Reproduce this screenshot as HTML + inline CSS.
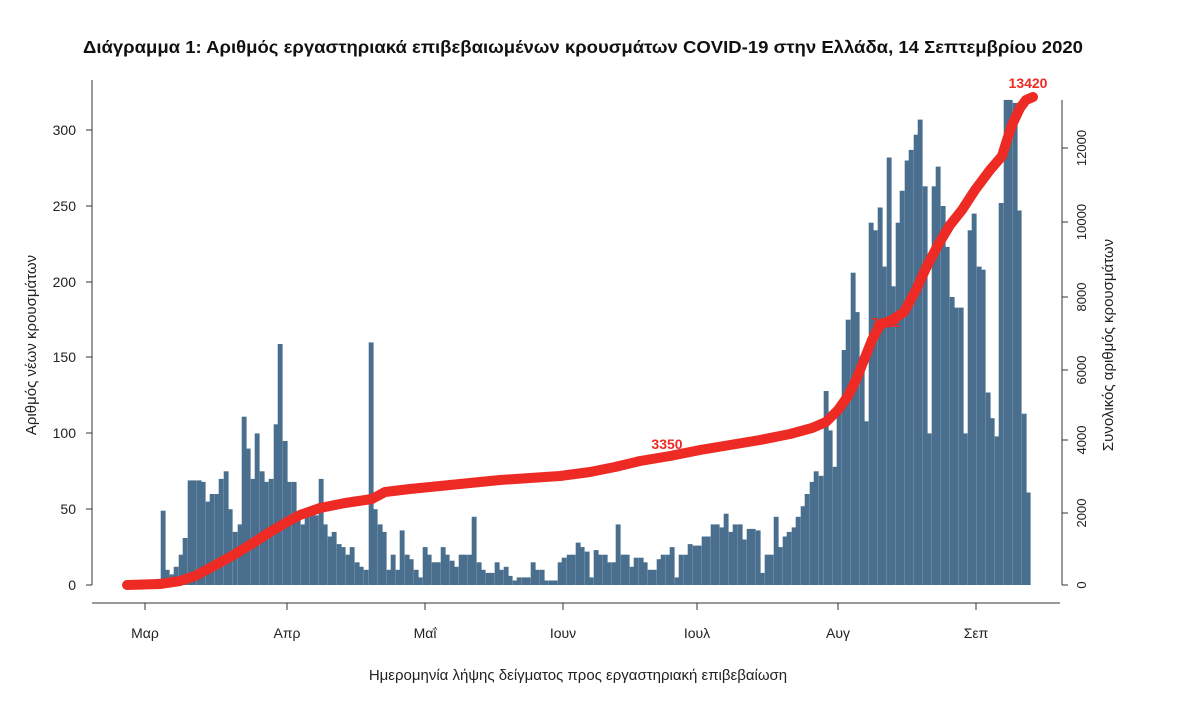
<!DOCTYPE html>
<html><head><meta charset="utf-8"><style>
html,body{margin:0;padding:0;background:#fff;width:1200px;height:703px;overflow:hidden}
svg text{font-family:"Liberation Sans","DejaVu Sans",sans-serif}
</style></head><body>
<svg id="s" width="1200" height="703" viewBox="0 0 1200 703" xmlns="http://www.w3.org/2000/svg">
<text x="583" y="53" text-anchor="middle" font-size="17.5" font-weight="bold" fill="#111" textLength="1000" lengthAdjust="spacingAndGlyphs">Διάγραμμα 1: Αριθμός εργαστηριακά επιβεβαιωμένων κρουσμάτων COVID-19 στην Ελλάδα, 14 Σεπτεμβρίου 2020</text>
<g id="bars" fill="#4a6f8e"></g>
<g stroke="#333" stroke-width="1" fill="none">
<line x1="92" y1="80" x2="92" y2="585"/>
<line x1="86" y1="585" x2="92" y2="585"/><line x1="86" y1="509" x2="92" y2="509"/><line x1="86" y1="433" x2="92" y2="433"/><line x1="86" y1="357" x2="92" y2="357"/><line x1="86" y1="282" x2="92" y2="282"/><line x1="86" y1="206" x2="92" y2="206"/><line x1="86" y1="130" x2="92" y2="130"/>
<line x1="92" y1="603" x2="1060" y2="603"/>
<line x1="145" y1="603" x2="145" y2="610"/><line x1="287" y1="603" x2="287" y2="610"/><line x1="425" y1="603" x2="425" y2="610"/><line x1="563" y1="603" x2="563" y2="610"/><line x1="697" y1="603" x2="697" y2="610"/><line x1="838" y1="603" x2="838" y2="610"/><line x1="976" y1="603" x2="976" y2="610"/>
<line x1="1062" y1="100" x2="1062" y2="585"/>
<line x1="1062" y1="585" x2="1068" y2="585"/><line x1="1062" y1="513" x2="1068" y2="513"/><line x1="1062" y1="440" x2="1068" y2="440"/><line x1="1062" y1="370" x2="1068" y2="370"/><line x1="1062" y1="297" x2="1068" y2="297"/><line x1="1062" y1="222" x2="1068" y2="222"/><line x1="1062" y1="148" x2="1068" y2="148"/>
</g>
<g font-size="14" fill="#222" text-anchor="end">
<text x="76" y="590">0</text><text x="76" y="514">50</text><text x="76" y="438">100</text><text x="76" y="362">150</text><text x="76" y="287">200</text><text x="76" y="211">250</text><text x="76" y="135">300</text>
</g>
<g font-size="14" fill="#222" text-anchor="middle">
<text x="145" y="638">Μαρ</text><text x="287" y="638">Απρ</text><text x="425" y="638">Μαΐ</text><text x="563" y="638">Ιουν</text><text x="697" y="638">Ιουλ</text><text x="838" y="638">Αυγ</text><text x="976" y="638">Σεπ</text>
</g>
<g font-size="13" fill="#222" text-anchor="middle">
<text transform="translate(1086,585) rotate(-90)">0</text>
<text transform="translate(1086,513) rotate(-90)">2000</text>
<text transform="translate(1086,440) rotate(-90)">4000</text>
<text transform="translate(1086,370) rotate(-90)">6000</text>
<text transform="translate(1086,297) rotate(-90)">8000</text>
<text transform="translate(1086,222) rotate(-90)">10000</text>
<text transform="translate(1086,148) rotate(-90)">12000</text>
</g>
<text transform="translate(36,345) rotate(-90)" text-anchor="middle" font-size="15" fill="#222">Αριθμός νέων κρουσμάτων</text>
<text transform="translate(1113,345) rotate(-90)" text-anchor="middle" font-size="15" fill="#222">Συνολικός αριθμός κρουσμάτων</text>
<text x="578" y="680" text-anchor="middle" font-size="15" fill="#222">Ημερομηνία λήψης δείγματος προς εργαστηριακή επιβεβαίωση</text>
<polyline id="cum" fill="none" stroke="#ee2a24" stroke-width="10" stroke-linecap="round" stroke-linejoin="round"
points="127,585 160,584 180,581 195,576 210,568 230,557 250,545 270,532 287,522 300,515 320,508 345,503 372,499 385,492 410,489 430,487 470,483 500,480 530,478 560,476 590,472 615,467 640,461 670,456 700,450 730,445 760,440 790,434 812,428 826,422 838,410 848,396 856,380 864,360 872,340 880,325 892,320 904,312 916,290 926,268 938,245 950,225 962,210 975,190 990,170 1002,156 1007,140 1012,125 1020,108 1026,100 1033,97"/>
<text x="667" y="449" font-size="14" font-weight="bold" fill="#ee2a24" text-anchor="middle">3350</text>
<text x="1028" y="88" font-size="14" font-weight="bold" fill="#ee2a24" text-anchor="middle">13420</text>
<text x="886" y="327" font-size="13" font-weight="bold" fill="#ee2a24" text-anchor="middle">7222</text>
</svg>
<script>
var k=[[127,2],[131,2],[136,3],[140,2],[145,2],[150,3],[154,2],[158,4],[163,49],[167,10],[172,7],[176,12],[181,20],[185,31],[190,69],[194,69],[199,69],[203,68],[208,55],[212,60],[217,60],[221,70],[226,75],[230,50],[235,35],[240,40],[244,111],[248,90],[253,70],[257,100],[262,75],[266,68],[271,70],[276,106],[280,159],[285,95],[289,68],[294,68],[298,45],[303,40],[307,45],[312,47],[316,46],[321,70],[325,40],[330,32],[334,35],[339,27],[343,25],[348,20],[352,25],[357,15],[361,12],[366,10],[371,160],[375,50],[380,40],[384,35],[389,10],[393,20],[398,10],[402,36],[407,20],[411,17],[416,10],[420,5],[425,25],[429,20],[434,15],[438,15],[443,25],[447,20],[452,16],[456,12],[461,20],[465,20],[470,20],[474,45],[479,15],[483,10],[488,8],[492,8],[497,15],[501,10],[506,12],[510,6],[515,3],[519,5],[524,5],[528,5],[533,15],[537,10],[542,10],[546,3],[551,3],[555,3],[560,15],[564,18],[569,20],[573,20],[578,28],[582,25],[587,22],[591,5],[596,23],[600,20],[605,20],[609,15],[614,15],[618,40],[623,20],[627,20],[632,12],[636,18],[641,18],[645,15],[650,10],[654,10],[659,17],[663,20],[668,20],[672,25],[677,5],[681,20],[686,20],[690,27],[695,26],[699,26],[704,32],[708,32],[713,40],[717,40],[722,38],[726,47],[731,35],[735,40],[740,40],[744,30],[749,37],[753,37],[758,36],[762,8],[767,20],[771,20],[776,45],[780,25],[785,32],[789,35],[794,38],[798,45],[803,52],[807,60],[812,68],[816,75],[821,72],[826,128],[830,102],[835,78],[839,113],[844,155],[848,175],[853,206],[857,180],[862,146],[866,108],[871,239],[875,234],[880,249],[884,210],[889,282],[893,197],[898,239],[902,260],[907,280],[911,287],[916,297],[920,307],[925,263],[929,100],[934,263],[938,276],[943,250],[947,223],[952,190],[956,183],[961,183],[965,100],[970,234],[974,245],[979,210],[983,208],[988,127],[992,110],[997,98],[1001,252],[1006,320],[1010,320],[1015,318],[1019,247],[1024,113],[1028,61]];
var g=document.getElementById('bars'),h='';
for(var i=0;i<k.length;i++){var x=k[i][0]-2.3,v=k[i][1],hh=v*1.516;h+='<rect x="'+x.toFixed(1)+'" y="'+(585-hh).toFixed(1)+'" width="4.9" height="'+hh.toFixed(1)+'"/>';}
g.innerHTML=h;
</script>
</body></html>
